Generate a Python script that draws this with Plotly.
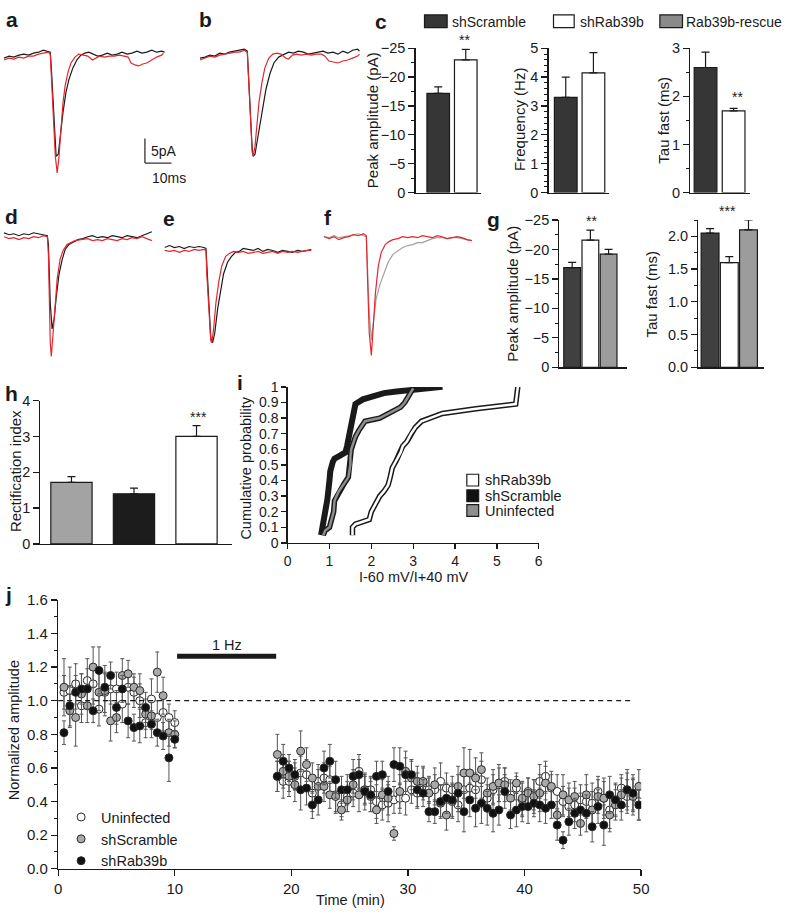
import plotly.graph_objects as go

W, H = 788, 919
FONT = "Liberation Sans, Arial, Helvetica, sans-serif"
INK = "#1a1a1a"
RED = "#e3262d"
TGREY = "#a0a0a0"

# ---------------- example current traces (time in ms, current in pA) ----------------
a_t_black = [0, 1.9, 3.7, 5.6, 7.4, 9.3, 11.1, 13.0, 14.8, 16.7, 17.4, 17.8, 18.5, 19.3, 19.6, 20.4, 21.1, 22.2, 23.3, 24.4,
             25.9, 27.4, 28.9, 30.4, 31.9, 33.3, 35.2, 37.0, 38.9, 40.7, 42.6, 44.4, 46.3, 48.1, 50.0, 51.9, 53.7, 55.6, 57.4, 59.3, 60.4]
a_i_black = [-1.4, -1.0, -1.2, -0.8, -0.6, -0.8, -0.4, -0.2, 0.2, 0.0, -0.2, -3.4, -11.4, -19.4, -21.4, -21.0, -17.4, -12.4, -8.4, -5.8,
             -3.4, -1.8, -0.8, -0.4, -0.2, -0.6, -1.0, -0.8, -0.4, -0.8, -0.6, -0.2, -0.6, -0.4, 0.0, -0.4, -0.2, 0.2, -0.2, 0.0, -0.2]
a_t_red = [0, 1.9, 3.7, 5.6, 7.4, 9.3, 11.1, 13.0, 14.8, 16.7, 17.4, 17.8, 18.5, 19.3, 20.0, 20.7, 21.5, 22.2, 23.0, 24.1,
           25.2, 26.7, 28.1, 29.6, 31.5, 33.3, 34.4, 35.9, 37.8, 39.6, 41.5, 43.3, 45.2, 46.7, 47.8, 49.3, 50.7, 52.2, 53.7, 55.6,
           57.4, 59.3, 60.0]
a_i_red = [-1.8, -1.4, -1.6, -1.2, -1.4, -1.0, -1.0, -0.6, -0.4, -0.2, -0.6, -5.4, -14.4, -21.4, -24.8, -21.4, -15.4, -10.4, -7.0, -4.2,
           -2.4, -1.2, -0.6, -0.8, -1.0, -1.8, -1.4, -1.0, -1.2, -1.0, -1.0, -0.8, -1.0, -1.2, -2.4, -2.8, -3.0, -2.6, -2.4, -1.8,
           -1.2, -0.8, -0.4]

b_t_black = [0, 1.9, 3.7, 5.6, 7.4, 9.3, 11.1, 13.0, 14.8, 16.7, 17.8, 18.1, 18.9, 19.6, 20.0, 20.7, 21.5, 22.6, 23.7, 24.8,
             26.3, 27.8, 29.6, 31.5, 33.3, 35.2, 37.0, 38.9, 40.7, 42.6, 44.4, 46.3, 48.1, 50.0, 51.9, 53.7, 55.6, 57.4, 59.3, 60.0]
b_i_black = [-1.4, -1.2, -0.8, -1.0, -0.4, -0.6, -0.2, 0.0, 0.2, 0.4, 0.0, -3.4, -11.4, -19.4, -21.4, -21.0, -18.4, -15.0, -11.0, -7.8,
             -4.6, -2.4, -1.2, -0.6, -0.2, -0.4, 0.0, -0.2, -0.6, -0.4, -0.2, 0.0, -0.4, -0.2, -0.6, 0.0, -0.4, 0.2, 0.4, 0.0]
b_t_red = [0, 1.9, 3.7, 5.6, 7.4, 9.3, 11.1, 13.0, 14.8, 16.7, 17.8, 18.1, 18.9, 19.6, 20.0, 20.7, 21.5, 22.2, 23.3, 24.4,
           25.9, 27.4, 28.9, 30.4, 32.2, 33.3, 34.8, 36.3, 38.1, 40.0, 41.9, 43.7, 45.6, 47.0, 48.5, 50.0, 51.9, 53.7, 55.6, 57.4,
           59.3, 60.0]
b_i_red = [-1.8, -1.4, -1.0, -1.2, -0.8, -0.6, -0.4, -0.2, -0.2, 0.2, -0.2, -4.4, -12.4, -20.4, -21.4, -19.4, -14.4, -10.4, -6.4, -3.4,
           -1.4, -0.6, -0.4, -0.6, -1.4, -1.6, -0.8, -0.6, -0.8, -0.6, -0.8, -0.6, -0.6, -1.0, -2.0, -2.2, -2.4, -2.0, -1.8, -1.4,
           -1.0, -0.6]

d_t_black = [0, 1.9, 3.7, 5.6, 7.4, 9.3, 11.1, 13.0, 14.8, 16.3, 16.7, 17.0, 17.4, 18.1, 18.9, 19.6, 20.7, 21.9, 23.0, 24.4,
             25.9, 27.8, 29.6, 31.5, 33.3, 35.2, 37.0, 38.9, 40.7, 42.6, 44.4, 46.3, 48.1, 50.0, 51.9, 53.7, 55.6]
d_i_black = [0.4, 0.0, 0.2, -0.2, 0.2, 0.0, 0.4, 0.2, 0.0, -0.2, -2.0, -8.0, -14.0, -19.2, -17.0, -13.0, -8.0, -5.0, -3.0, -2.0,
             -1.6, -1.0, -0.8, -0.4, -0.2, -0.6, -0.4, -0.6, -0.2, -0.4, -0.6, -0.2, -0.4, -0.6, -0.2, 0.2, 0.6]
d_t_red = [0, 1.9, 3.7, 5.6, 7.4, 9.3, 11.1, 13.0, 14.8, 16.3, 16.7, 17.0, 17.4, 17.8, 18.5, 19.3, 20.0, 21.1, 22.2, 23.7,
           25.2, 26.7, 28.9, 31.5, 33.3, 35.2, 37.0, 38.9, 40.7, 42.6, 44.4, 46.3, 48.1, 50.0, 51.9, 53.7, 55.6]
d_i_red = [-0.4, -0.8, -0.6, -1.0, -0.6, -0.8, -0.4, -0.6, -0.2, -0.4, -4.0, -14.0, -22.0, -24.8, -20.0, -14.0, -9.0, -5.0, -3.2, -2.0,
           -1.6, -1.2, -1.0, -0.8, -1.2, -1.0, -1.2, -0.8, -1.0, -1.2, -0.8, -1.0, -0.6, -0.8, -0.4, -0.8, -1.2]

e_t_black = [0, 1.9, 3.7, 5.6, 7.4, 9.3, 11.1, 13.0, 14.8, 15.6, 15.9, 16.7, 17.4, 18.1, 18.9, 20.0, 21.1, 22.2, 23.7, 25.2,
             26.7, 28.1, 29.6, 31.5, 33.3, 35.2, 37.0, 38.9, 40.7, 42.6, 44.4, 46.3, 48.1, 50.0, 51.9, 53.7, 55.2]
e_i_black = [0.0, 0.4, 0.0, 0.2, -0.2, 0.2, 0.0, 0.2, 0.0, -0.2, -3.4, -11.4, -18.4, -19.4, -17.4, -12.4, -8.4, -5.4, -3.0, -1.8,
             -1.0, -0.8, -0.2, -0.4, -0.6, -0.2, -0.8, -0.4, -0.6, -1.0, -0.6, -0.8, -1.0, -0.6, -0.8, -0.6, -0.4]
e_t_red = [0, 1.9, 3.7, 5.6, 7.4, 9.3, 11.1, 13.0, 14.8, 15.6, 15.9, 16.7, 17.4, 17.8, 18.5, 19.3, 20.4, 21.5, 23.0, 24.4,
           25.9, 27.8, 29.6, 31.5, 33.3, 35.2, 37.0, 38.9, 40.7, 42.6, 44.4, 46.3, 48.1, 50.0, 51.9, 53.7, 55.2]
e_i_red = [-0.6, -0.8, -0.6, -1.0, -0.6, -0.8, -0.4, -0.6, -0.4, -0.6, -5.4, -13.4, -19.0, -19.4, -16.4, -11.4, -7.0, -3.8, -1.8, -1.2,
           -0.8, -1.0, -0.8, -1.2, -1.0, -0.8, -1.2, -1.0, -0.8, -1.2, -0.8, -1.0, -0.8, -1.0, -0.8, -0.6, -0.6]

f_t_grey = [0, 1.9, 3.7, 5.6, 7.4, 9.3, 11.1, 13.0, 14.8, 15.9, 16.3, 17.0, 17.8, 18.5, 19.6, 21.1, 22.6, 24.1, 25.9, 27.8,
            29.6, 31.5, 33.3, 35.2, 37.0, 38.9, 40.7, 42.6, 44.4, 46.3, 48.1, 50.0, 51.9, 53.7, 55.6]
f_i_grey = [0.0, -0.2, 0.2, -0.2, 0.0, 0.2, 0.4, 0.6, 0.2, 0.0, -5.6, -15.6, -21.0, -17.6, -12.6, -9.6, -7.2, -5.2, -3.6, -2.8,
            -2.2, -1.8, -1.6, -1.2, -1.2, -0.8, -0.4, -0.2, -0.2, -0.4, -0.2, -0.2, -0.4, -0.6, -0.8]
f_t_red = [0, 1.9, 3.7, 5.6, 7.4, 9.3, 11.1, 13.0, 14.8, 15.9, 16.3, 17.0, 17.8, 18.5, 19.3, 20.4, 21.5, 23.0, 24.4, 25.9,
           27.8, 29.6, 31.5, 33.3, 35.2, 37.0, 38.9, 40.7, 42.6, 44.4, 46.3, 48.1, 50.0, 51.9, 53.7, 55.6]
f_i_red = [0.0, -0.4, 0.0, -0.6, -0.2, 0.0, 0.4, 0.2, 0.6, 0.2, -7.6, -19.6, -24.2, -18.6, -11.6, -6.0, -3.2, -1.6, -1.0, -0.6,
           -0.4, 0.0, -0.2, 0.0, -0.2, 0.2, 0.0, -0.2, 0.2, 0.0, -0.4, -0.2, 0.0, -0.2, -0.6, -0.8]

SCALE_PA = 5    # scale bar, pA
SCALE_MS = 10   # scale bar, ms

# ---------------- bar data ----------------
c_groups = ["shScramble", "shRab39b"]
c_amp = [-17.2, -23.0]
c_amp_err = [1.1, 1.8]
c_freq = [3.3, 4.15]
c_freq_err = [0.7, 0.7]
c_tau = [2.6, 1.7]
c_tau_err = [0.32, 0.05]

g_groups = ["shScramble", "shRab39b", "Rab39b-rescue"]
g_amp = [-16.9, -21.6, -19.2]
g_amp_err = [0.9, 1.7, 0.8]
g_tau = [2.05, 1.6, 2.1]
g_tau_err = [0.07, 0.09, 0.15]

h_groups = ["Uninfected", "shScramble", "shRab39b"]
h_ri = [1.72, 1.40, 3.00]
h_ri_err = [0.16, 0.16, 0.30]

# ---------------- cumulative distributions (panel i) ----------------
i_scr_x = [0.80, 0.82, 0.86, 0.88, 0.92, 0.95, 1.00, 1.02, 1.08, 1.12, 1.25, 1.38, 1.42, 1.45, 1.50, 1.52, 1.58, 1.60, 1.62, 1.80,
           2.00, 2.30, 2.60, 3.00, 3.40, 3.70]
i_scr_y = [0.05, 0.08, 0.12, 0.18, 0.22, 0.28, 0.40, 0.46, 0.52, 0.54, 0.56, 0.58, 0.62, 0.66, 0.70, 0.76, 0.82, 0.88, 0.89, 0.92,
           0.94, 0.96, 0.97, 0.98, 0.99, 1.00]
i_uni_x = [0.85, 0.90, 1.00, 1.05, 1.10, 1.12, 1.18, 1.22, 1.35, 1.45, 1.50, 1.50, 1.52, 1.58, 1.62, 1.70, 1.80, 1.85, 2.20, 2.50,
           2.70, 2.80, 2.90, 3.00]
i_uni_y = [0.05, 0.08, 0.10, 0.15, 0.20, 0.27, 0.30, 0.33, 0.38, 0.42, 0.50, 0.55, 0.60, 0.65, 0.68, 0.72, 0.76, 0.78, 0.80, 0.84,
           0.87, 0.90, 0.95, 0.99]
i_rab_x = [1.55, 1.55, 1.62, 1.95, 2.00, 2.10, 2.20, 2.30, 2.40, 2.45, 2.50, 2.60, 2.70, 2.75, 2.85, 2.95, 3.05, 3.20, 3.70, 4.50,
           5.45, 5.50]
i_rab_y = [0.05, 0.10, 0.12, 0.15, 0.20, 0.25, 0.30, 0.33, 0.37, 0.42, 0.48, 0.53, 0.58, 0.62, 0.65, 0.70, 0.74, 0.78, 0.83, 0.86,
           0.89, 1.00]

# ---------------- time course (panel j) ----------------
t_pre = [0.5, 1.0, 1.5, 2.0, 2.5, 3.0, 3.5, 4.0, 4.5, 5.0, 5.5, 6.0, 6.5, 7.0, 7.5, 8.0, 8.5, 9.0, 9.5, 10.0]
t_post = [18.8, 19.3, 19.8, 20.3, 20.8, 21.3, 21.8, 22.3, 22.8, 23.3,
          23.8, 24.3, 24.8, 25.3, 25.8, 26.3, 26.8, 27.3, 27.8, 28.3,
          28.8, 29.3, 29.8, 30.3, 30.8, 31.3, 31.8, 32.3, 32.8, 33.3,
          33.8, 34.3, 34.8, 35.3, 35.8, 36.3, 36.8, 37.3, 37.8, 38.3,
          38.8, 39.3, 39.8, 40.3, 40.8, 41.3, 41.8, 42.3, 42.8, 43.3,
          43.8, 44.3, 44.8, 45.3, 45.8, 46.3, 46.8, 47.3, 47.8, 48.3,
          48.8, 49.3, 49.8]

uni_pre = [1.05, 1.06, 1.10, 0.97, 1.12, 1.10, 0.95, 1.05, 1.07, 1.07, 0.98, 1.08, 1.05, 1.00, 0.87, 1.01, 0.90, 0.93, 0.90, 0.87]
scr_pre = [1.08, 0.94, 0.90, 1.04, 0.97, 1.20, 1.05, 1.06, 0.88, 0.90, 1.15, 1.16, 1.08, 1.06, 0.92, 0.91, 1.17, 1.03, 0.81, 0.80]
rab_pre = [0.81, 0.97, 1.05, 1.07, 1.07, 0.94, 1.18, 1.08, 1.15, 0.96, 1.07, 0.88, 0.84, 0.85, 0.96, 0.86, 0.81, 0.79, 0.66, 0.77]
uni_pre_err = [0.10, 0.14, 0.12, 0.10, 0.13, 0.12, 0.10, 0.12, 0.09, 0.10, 0.11, 0.10, 0.09, 0.10, 0.09, 0.12, 0.10, 0.11, 0.08, 0.07]
scr_pre_err = [0.17, 0.10, 0.17, 0.12, 0.10, 0.12, 0.11, 0.15, 0.12, 0.09, 0.10, 0.08, 0.08, 0.10, 0.09, 0.08, 0.12, 0.11, 0.08, 0.08]
rab_pre_err = [0.07, 0.12, 0.10, 0.09, 0.12, 0.07, 0.14, 0.08, 0.08, 0.10, 0.08, 0.10, 0.08, 0.10, 0.09, 0.08, 0.08, 0.08, 0.14, 0.05]

uni_post = [0.55, 0.52, 0.52, 0.55, 0.57, 0.56, 0.45, 0.52, 0.54, 0.53,
            0.44, 0.38, 0.43, 0.45, 0.58, 0.47, 0.47, 0.40, 0.38, 0.39,
            0.41, 0.42, 0.42, 0.47, 0.45, 0.51, 0.47, 0.47, 0.52, 0.48,
            0.47, 0.38, 0.47, 0.48, 0.47, 0.53, 0.42, 0.47, 0.50, 0.52,
            0.44, 0.48, 0.41, 0.46, 0.44, 0.52, 0.55, 0.48, 0.46, 0.40,
            0.37, 0.38, 0.41, 0.40, 0.39, 0.46, 0.42, 0.35, 0.41, 0.48,
            0.43, 0.44, 0.40]
scr_post = [0.68, 0.58, 0.55, 0.50, 0.70, 0.62, 0.54, 0.49, 0.49, 0.44,
            0.43, 0.35, 0.41, 0.50, 0.44, 0.47, 0.43, 0.35, 0.44, 0.42,
            0.21, 0.46, 0.58, 0.54, 0.52, 0.52, 0.45, 0.50, 0.39, 0.32,
            0.40, 0.49, 0.57, 0.57, 0.54, 0.59, 0.45, 0.49, 0.51, 0.50,
            0.42, 0.51, 0.42, 0.45, 0.43, 0.45, 0.51, 0.49, 0.32, 0.44,
            0.41, 0.43, 0.27, 0.44, 0.35, 0.43, 0.42, 0.32, 0.38, 0.44,
            0.47, 0.43, 0.49]
rab_post = [0.55, 0.64, 0.60, 0.56, 0.47, 0.48, 0.38, 0.41, 0.60, 0.64,
            0.53, 0.47, 0.47, 0.55, 0.56, 0.46, 0.44, 0.55, 0.56, 0.46,
            0.62, 0.61, 0.56, 0.56, 0.47, 0.45, 0.34, 0.34, 0.40, 0.42,
            0.41, 0.45, 0.34, 0.41, 0.36, 0.39, 0.36, 0.33, 0.35, 0.46,
            0.32, 0.35, 0.37, 0.37, 0.39, 0.38, 0.36, 0.38, 0.26, 0.17,
            0.28, 0.33, 0.35, 0.33, 0.25, 0.37, 0.26, 0.44, 0.41, 0.38,
            0.47, 0.45, 0.38]
uni_post_err = [0.09, 0.10, 0.09, 0.08, 0.10, 0.09, 0.11, 0.10, 0.09, 0.08,
                0.10, 0.07, 0.09, 0.08, 0.10, 0.09, 0.08, 0.10, 0.09, 0.11,
                0.08, 0.09, 0.10, 0.08, 0.09, 0.10, 0.08, 0.09, 0.11, 0.09,
                0.08, 0.10, 0.12, 0.09, 0.10, 0.11, 0.08, 0.09, 0.10, 0.08,
                0.09, 0.07, 0.10, 0.08, 0.09, 0.10, 0.09, 0.08, 0.10, 0.09,
                0.11, 0.10, 0.09, 0.10, 0.12, 0.09, 0.10, 0.11, 0.09, 0.08,
                0.10, 0.09, 0.11]
scr_post_err = [0.12, 0.10, 0.09, 0.10, 0.12, 0.10, 0.09, 0.10, 0.09, 0.08,
                0.10, 0.06, 0.07, 0.09, 0.10, 0.08, 0.09, 0.08, 0.09, 0.10,
                0.04, 0.10, 0.12, 0.10, 0.09, 0.08, 0.09, 0.10, 0.08, 0.09,
                0.10, 0.12, 0.15, 0.14, 0.12, 0.10, 0.09, 0.10, 0.11, 0.10,
                0.09, 0.06, 0.10, 0.09, 0.10, 0.11, 0.10, 0.09, 0.08, 0.12,
                0.10, 0.09, 0.07, 0.12, 0.11, 0.10, 0.12, 0.10, 0.09, 0.10,
                0.12, 0.11, 0.10]
rab_post_err = [0.09, 0.10, 0.08, 0.09, 0.12, 0.10, 0.08, 0.09, 0.10, 0.10,
                0.11, 0.08, 0.09, 0.10, 0.09, 0.11, 0.10, 0.09, 0.08, 0.09,
                0.10, 0.11, 0.10, 0.09, 0.10, 0.08, 0.06, 0.07, 0.10, 0.09,
                0.10, 0.11, 0.12, 0.10, 0.11, 0.12, 0.10, 0.11, 0.09, 0.10,
                0.08, 0.10, 0.09, 0.10, 0.08, 0.10, 0.09, 0.08, 0.09, 0.05,
                0.08, 0.09, 0.10, 0.11, 0.09, 0.10, 0.12, 0.11, 0.10, 0.09,
                0.10, 0.11, 0.09]

STIM = (10.2, 18.7)   # 1 Hz stimulation period (min)

# ---------------- layout helpers ----------------
layout = dict(width=W, height=H, margin=dict(l=0, r=0, t=0, b=0),
              paper_bgcolor="white", plot_bgcolor="rgba(0,0,0,0)",
              font=dict(family=FONT, size=15, color=INK))


def xd(a, b):
    return [a / W, b / W]


def yd(top, bot):
    return [1 - bot / H, 1 - top / H]


def ref(n, k):
    return k if n == 1 else f"{k}{n}"


def set_axes(n, xdom, ydom, xa, ya):
    layout[("xaxis" if n == 1 else f"xaxis{n}")] = dict(domain=xdom, anchor=ref(n, "y"), **xa)
    layout[("yaxis" if n == 1 else f"yaxis{n}")] = dict(domain=ydom, anchor=ref(n, "x"), **ya)


PX_MS, PX_PA = 2.7, 5.0


def trace_panel(n, left, right, top, bot, base):
    hx = dict(visible=False, range=[0, (right - left) / PX_MS], showgrid=False, zeroline=False)
    hy = dict(visible=False, range=[-(bot - base) / PX_PA, (base - top) / PX_PA], showgrid=False, zeroline=False)
    set_axes(n, xd(left, right), yd(top, bot), hx, hy)


def bar_x(rng):
    return dict(range=rng, showline=True, linecolor=INK, linewidth=1.3, ticks="", showticklabels=False,
                showgrid=False, zeroline=False)


def lin_y(rng, vals, texts, minor_dtick=None, size=15):
    d = dict(range=rng, showline=True, linecolor=INK, linewidth=1.3, ticks="outside", ticklen=6, tickwidth=1.3,
             tickcolor=INK, tickmode="array", tickvals=vals, ticktext=texts, tickfont=dict(size=size, color=INK),
             showgrid=False, zeroline=False)
    if minor_dtick:
        d["minor"] = dict(ticks="outside", ticklen=3, tickwidth=1, tickcolor=INK, tickmode="linear", tick0=0,
                          dtick=minor_dtick, showgrid=False)
    return d


fig = go.Figure()


def line(n, x, y, color, w=1.2):
    fig.add_trace(go.Scatter(x=x, y=y, mode="lines", line=dict(color=color, width=w), xaxis=ref(n, "x"),
                             yaxis=ref(n, "y"), showlegend=False, hoverinfo="skip"))


def bars(n, vals, errs, colors, width, neg=False):
    xs = list(range(len(vals)))
    zeros = [0] * len(vals)
    fig.add_trace(go.Bar(x=xs, y=vals, width=width,
                         marker=dict(color=colors, line=dict(color=INK, width=1.2)),
                         error_y=dict(type="data", symmetric=False,
                                      array=zeros if neg else errs, arrayminus=errs if neg else zeros,
                                      color=INK, thickness=1.2, width=4),
                         xaxis=ref(n, "x"), yaxis=ref(n, "y"), showlegend=False, hoverinfo="skip"))


# ---------------- traces a, b, d, e, f ----------------
trace_panel(1, 0, 185, 35, 175, 43)
trace_panel(2, 199, 365, 35, 175, 43)
trace_panel(3, 0, 152, 215, 365, 230)
trace_panel(4, 163, 315, 215, 365, 243)
trace_panel(5, 325, 480, 215, 365, 232)

line(1, a_t_black, a_i_black, INK)
line(1, a_t_red, a_i_red, RED)
line(2, b_t_black, b_i_black, INK)
line(2, b_t_red, b_i_red, RED)
line(3, d_t_black, d_i_black, INK)
line(3, d_t_red, d_i_red, RED)
line(4, e_t_black, e_i_black, INK)
line(4, e_t_red, e_i_red, RED)
line(5, f_t_grey, f_i_grey, TGREY)
line(5, f_t_red, f_i_red, RED)

# ---------------- panel c ----------------
C_DARK = "#363636"
amp_vals = [0, -5, -10, -15, -20, -25]
amp_txt = ["0", "\u22125", "\u221210", "\u221215", "\u221220", "\u221225"]
set_axes(6, xd(418, 484), yd(40, 187), bar_x([-0.82, 1.54]), lin_y([0, -25], amp_vals, amp_txt, 2.5, 14.5))
set_axes(7, xd(553, 614), yd(40, 187), bar_x([-0.62, 1.55]), lin_y([0, 5], [0, 1, 2, 3, 4, 5],
                                                                     ["0", "1", "2", "3", "4", "5"], 0.2, 14.5))
set_axes(8, xd(697, 758), yd(40, 187), bar_x([-0.54, 1.6]),
         lin_y([0, 3], [0, 1, 2, 3], ["0", "1", "2", "3"], 0.5, 14.5))
bars(6, c_amp, c_amp_err, [C_DARK, "white"], 0.82, neg=True)
bars(7, c_freq, c_freq_err, [C_DARK, "white"], 0.82)
bars(8, c_tau, c_tau_err, [C_DARK, "white"], 0.81)

# ---------------- panel g ----------------
G_DARK, G_GREY = "#404040", "#9c9c9c"
set_axes(9, xd(564, 633), yd(215, 365), bar_x([-0.70, 3.03]), lin_y([0, -25], amp_vals, amp_txt, 2.5, 14.5))
set_axes(10, xd(705, 772), yd(215, 365), bar_x([-0.615, 2.82]),
         lin_y([0, 2.25], [0, 0.5, 1.0, 1.5, 2.0], ["0.0", "0.5", "1.0", "1.5", "2.0"], 0.25, 14.5))
bars(9, g_amp, g_amp_err, [G_DARK, "white", G_GREY], 0.92, neg=True)
bars(10, g_tau, g_tau_err, [G_DARK, "white", G_GREY], 0.93)

# ---------------- panel h ----------------
set_axes(11, xd(37, 232), yd(399, 545), bar_x([-0.496, 2.575]),
         lin_y([0, 4], [0, 1, 2, 3, 4], ["0", "1", "2", "3", "4"], None, 14.5))
bars(11, h_ri, h_ri_err, ["#a3a3a3", "#1c1c1c", "white"], 0.66)

# ---------------- panel i ----------------
i_xa = dict(range=[0, 6], showline=True, linecolor=INK, linewidth=1.3, ticks="outside", ticklen=5, tickwidth=1.3,
            tickcolor=INK, tickmode="linear", tick0=0, dtick=1, tickfont=dict(size=14, color=INK),
            showgrid=False, zeroline=False)
i_vals = [0, 0.1, 0.2, 0.3, 0.4, 0.5, 0.6, 0.7, 0.8, 0.9, 1.0]
i_txt = ["0", "0.1", "0.2", "0.3", "0.4", "0.5", "0.6", "0.7", "0.8", "0.9", "1"]
set_axes(12, xd(288, 543), yd(385, 544), i_xa, lin_y([0, 1.0], i_vals, i_txt, None, 14))
layout["yaxis12"]["ticklen"] = 5
line(12, i_scr_x, i_scr_y, INK, 6)
line(12, i_uni_x, i_uni_y, INK, 5.5)
line(12, i_uni_x, i_uni_y, "#8e8e8e", 2.5)
line(12, i_rab_x, i_rab_y, INK, 5.5)
line(12, i_rab_x, i_rab_y, "white", 2.5)

# ---------------- panel j ----------------
j_xa = dict(range=[0, 50], showline=True, linecolor=INK, linewidth=1.3, ticks="outside", ticklen=6, tickwidth=1.3,
            tickcolor=INK, tickmode="linear", tick0=0, dtick=10, tickfont=dict(size=15, color=INK),
            showgrid=False, zeroline=False)
j_vals = [0, 0.2, 0.4, 0.6, 0.8, 1.0, 1.2, 1.4, 1.6]
j_txt = ["0.0", "0.2", "0.4", "0.6", "0.8", "1.0", "1.2", "1.4", "1.6"]
set_axes(13, xd(55, 647), yd(602, 876), j_xa, lin_y([0, 1.6], j_vals, j_txt, 0.1, 15))

series = [("Uninfected", uni_pre + uni_post, uni_pre_err + uni_post_err, "white"),
          ("shScramble", scr_pre + scr_post, scr_pre_err + scr_post_err, "#a9a9a9"),
          ("shRab39b", rab_pre + rab_post, rab_pre_err + rab_post_err, "#111111")]
for name, vals, errs, col in series:
    fig.add_trace(go.Scatter(x=t_pre + t_post, y=vals, mode="markers", name=name, legendgroup=name,
                             marker=dict(size=8, color=col, line=dict(color="#2a2a2a", width=1)),
                             error_y=dict(type="data", array=errs, color="#555555", thickness=1, width=2),
                             xaxis="x13", yaxis="y13", hoverinfo="skip"))

layout["legend"] = dict(x=58 / W, y=1 - 807 / H, xanchor="left", yanchor="top", bgcolor="rgba(0,0,0,0)",
                        font=dict(size=14.5, color=INK), itemwidth=30, tracegroupgap=3, traceorder="normal")
layout["showlegend"] = True

# ---------------- shapes ----------------
shapes = []
# scale bar (panel a)
sb_x, sb_y = 53.0, -22.8
shapes.append(dict(type="line", xref="x", yref="y", x0=sb_x, x1=sb_x, y0=sb_y, y1=sb_y + SCALE_PA,
                   line=dict(color="#333", width=1.3)))
shapes.append(dict(type="line", xref="x", yref="y", x0=sb_x, x1=sb_x + SCALE_MS, y0=sb_y, y1=sb_y,
                   line=dict(color="#333", width=1.3)))
# reference line and stimulation bar (panel j)
shapes.append(dict(type="line", xref="x13", yref="y13", x0=0, x1=49.2, y0=1.0, y1=1.0,
                   line=dict(color=INK, width=1.2, dash="5px,4px")))
shapes.append(dict(type="line", xref="x13", yref="y13", x0=STIM[0], x1=STIM[1], y0=1.265, y1=1.265,
                   line=dict(color=INK, width=5)))


def pbox(x0, y0, x1, y1, fill):
    shapes.append(dict(type="rect", xref="paper", yref="paper", x0=x0 / W, x1=x1 / W, y0=1 - y1 / H, y1=1 - y0 / H,
                       fillcolor=fill, line=dict(color=INK, width=1.2)))


# legend boxes panel c
pbox(427, 6, 450, 19, C_DARK)
pbox(558, 6, 579, 19, "white")
pbox(666, 6, 689, 19, "#8a8a8a")
# legend boxes panel i
pbox(470, 474, 482, 486, "white")
pbox(470, 490, 482, 502, "#111111")
pbox(470, 505, 482, 517, "#8e8e8e")
layout["shapes"] = shapes

# ---------------- annotations ----------------
anns = []


def ann(text, x, y, size=15, bold=False, angle=0, xanchor="center", yanchor="middle", xref="paper", yref="paper"):
    if xref == "paper":
        x = x / W
    if yref == "paper":
        y = 1 - y / H
    anns.append(dict(text=f"<b>{text}</b>" if bold else text, x=x, y=y, xref=xref, yref=yref, showarrow=False,
                     textangle=angle, xanchor=xanchor, yanchor=yanchor, font=dict(size=size, color=INK, family=FONT)))


for lab, x, y in [("a", 8, 11), ("b", 205, 11), ("c", 383, 13), ("d", 8, 211), ("e", 168, 213), ("f", 329, 212),
                  ("g", 497, 214), ("h", 8, 392), ("i", 240, 381), ("j", 5, 597)]:
    ann(lab, x, y, size=21, bold=True)

# legend texts panel c
ann("shScramble", 453, 13, 14, xanchor="left")
ann("shRab39b", 583, 13, 14, xanchor="left")
ann("Rab39b-rescue", 691, 13, 14, xanchor="left")
# scale bar text
ann(f"{SCALE_PA}pA", 147, 145, 14, xanchor="left")
ann(f"{SCALE_MS}ms", 148, 172, 14, xanchor="left")
# axis titles
ann("Peak amplitude (pA)", 375, 113, 15, angle=-90)
ann("Frequency (Hz)", 524, 113, 15, angle=-90)
ann("Tau fast (ms)", 670, 113, 15, angle=-90)
ann("Peak amplitude (pA)", 516, 290, 15, angle=-90)
ann("Tau fast (ms)", 658, 290, 15, angle=-90)
ann("Rectification index", 11, 471, 15, angle=-90)
ann("Cumulative probability", 246, 468, 14.5, angle=-90)
ann("I-60 mV/I+40 mV", 416, 579, 14.5)
ann("Normalized amplitude", 11, 735, 14.5, angle=-90)
ann("Time (min)", 352, 908, 14.5)
# significance
ann("**", 468, 32, 14)
ann("**", 745, 90, 14)
ann("**", 597, 216, 14)
ann("***", 735, 206, 14)
ann("***", 197, 416, 14)
# legend texts panel i
ann("shRab39b", 486, 480, 14.5, xanchor="left")
ann("shScramble", 486, 496, 14.5, xanchor="left")
ann("Uninfected", 486, 511, 14.5, xanchor="left")
# stimulation label
ann("1 Hz", (STIM[0] + STIM[1]) / 2, 1.33, 14.5, xref="x13", yref="y13")
layout["annotations"] = anns

fig.update_layout(**layout)
fig.write_html("out.html", config={"displayModeBar": False, "staticPlot": True},
               post_script="document.body.style.margin='0px';document.body.style.padding='0px';"
                           "document.body.style.overflow='hidden';")
